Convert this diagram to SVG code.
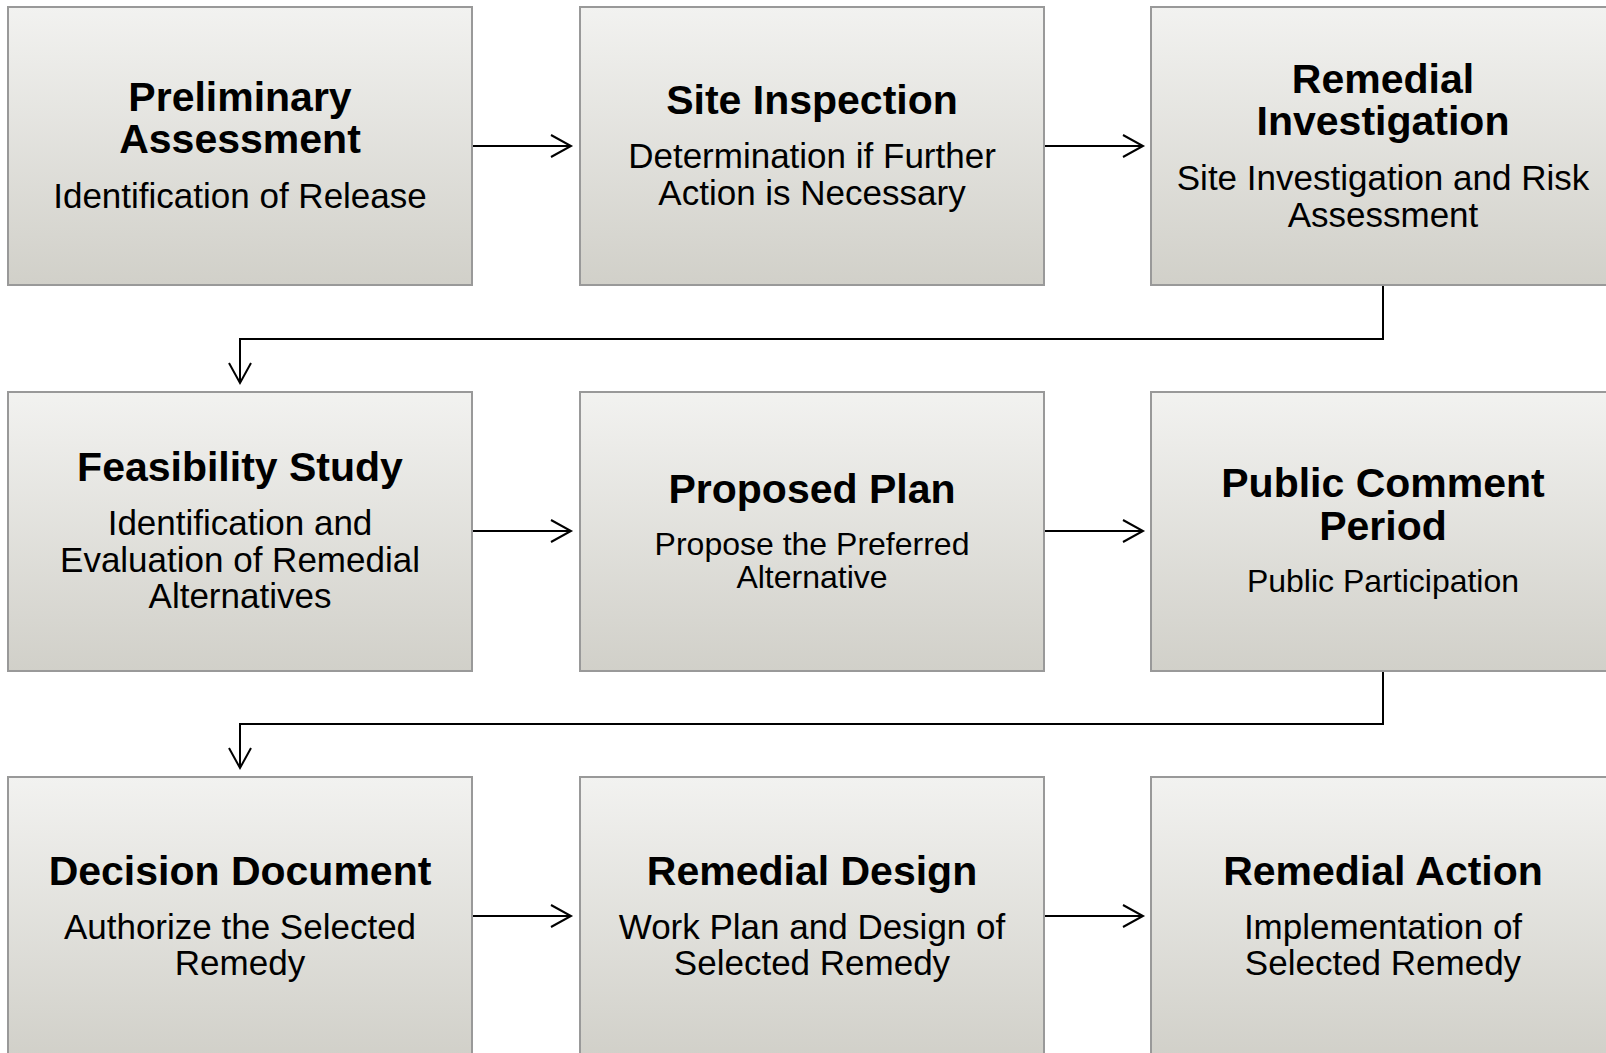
<svg xmlns="http://www.w3.org/2000/svg" width="1606" height="1053" viewBox="0 0 1606 1053">
<defs>
<linearGradient id="g" x1="0" y1="0" x2="0" y2="1">
<stop offset="0" stop-color="#f2f2f0"/>
<stop offset="1" stop-color="#d1d0c9"/>
</linearGradient>
<marker id="arr" markerUnits="userSpaceOnUse" markerWidth="26" markerHeight="28" refX="22" refY="13" orient="auto">
<path d="M2,2 L22,13 L2,24" fill="none" stroke="#000" stroke-width="2"/>
</marker>
<style>
rect.box{fill:url(#g);stroke:#999;stroke-width:2}
text{font-family:"Liberation Sans",Arial,sans-serif;fill:#000;text-anchor:middle}
.t{font-size:41px;font-weight:bold}
.s{font-size:35px}
.s2{font-size:32px}
.c{fill:none;stroke:#000;stroke-width:2}
</style>
</defs>
<g id="connectors">
<line class="c" x1="472" y1="146" x2="571" y2="146" marker-end="url(#arr)"/>
<line class="c" x1="1044" y1="146" x2="1143" y2="146" marker-end="url(#arr)"/>
<polyline class="c" points="1383,285 1383,339 240,339 240,383" marker-end="url(#arr)"/>
<line class="c" x1="472" y1="531" x2="571" y2="531" marker-end="url(#arr)"/>
<line class="c" x1="1044" y1="531" x2="1143" y2="531" marker-end="url(#arr)"/>
<polyline class="c" points="1383,671 1383,724 240,724 240,768" marker-end="url(#arr)"/>
<line class="c" x1="472" y1="916" x2="571" y2="916" marker-end="url(#arr)"/>
<line class="c" x1="1044" y1="916" x2="1143" y2="916" marker-end="url(#arr)"/>
</g>
<g id="preliminary-assessment">
<rect class="box" x="8" y="7" width="464" height="278"/>
<text class="t" x="240" y="111">Preliminary</text>
<text class="t" x="240" y="153">Assessment</text>
<text class="s" x="240" y="208">Identification of Release</text>
</g>
<g id="site-inspection">
<rect class="box" x="580" y="7" width="464" height="278"/>
<text class="t" x="812" y="114">Site Inspection</text>
<text class="s" x="812" y="168">Determination if Further</text>
<text class="s" x="812" y="205">Action is Necessary</text>
</g>
<g id="remedial-investigation">
<rect class="box" x="1151" y="7" width="464" height="278"/>
<text class="t" x="1383" y="93">Remedial</text>
<text class="t" x="1383" y="135">Investigation</text>
<text class="s" x="1383" y="190">Site Investigation and Risk</text>
<text class="s" x="1383" y="227">Assessment</text>
</g>
<g id="feasibility-study">
<rect class="box" x="8" y="392" width="464" height="279"/>
<text class="t" x="240" y="481">Feasibility Study</text>
<text class="s" x="240" y="535">Identification and</text>
<text class="s" x="240" y="571.5">Evaluation of Remedial</text>
<text class="s" x="240" y="608">Alternatives</text>
</g>
<g id="proposed-plan">
<rect class="box" x="580" y="392" width="464" height="279"/>
<text class="t" x="812" y="503">Proposed Plan</text>
<text class="s2" x="812" y="555">Propose the Preferred</text>
<text class="s2" x="812" y="588">Alternative</text>
</g>
<g id="public-comment-period">
<rect class="box" x="1151" y="392" width="464" height="279"/>
<text class="t" x="1383" y="497">Public Comment</text>
<text class="t" x="1383" y="540">Period</text>
<text class="s2" x="1383" y="592">Public Participation</text>
</g>
<g id="decision-document">
<rect class="box" x="8" y="777" width="464" height="280"/>
<text class="t" x="240" y="885">Decision Document</text>
<text class="s" x="240" y="939">Authorize the Selected</text>
<text class="s" x="240" y="975">Remedy</text>
</g>
<g id="remedial-design">
<rect class="box" x="580" y="777" width="464" height="280"/>
<text class="t" x="812" y="885">Remedial Design</text>
<text class="s" x="812" y="939">Work Plan and Design of</text>
<text class="s" x="812" y="975">Selected Remedy</text>
</g>
<g id="remedial-action">
<rect class="box" x="1151" y="777" width="464" height="280"/>
<text class="t" x="1383" y="885">Remedial Action</text>
<text class="s" x="1383" y="939">Implementation of</text>
<text class="s" x="1383" y="975">Selected Remedy</text>
</g>
</svg>
